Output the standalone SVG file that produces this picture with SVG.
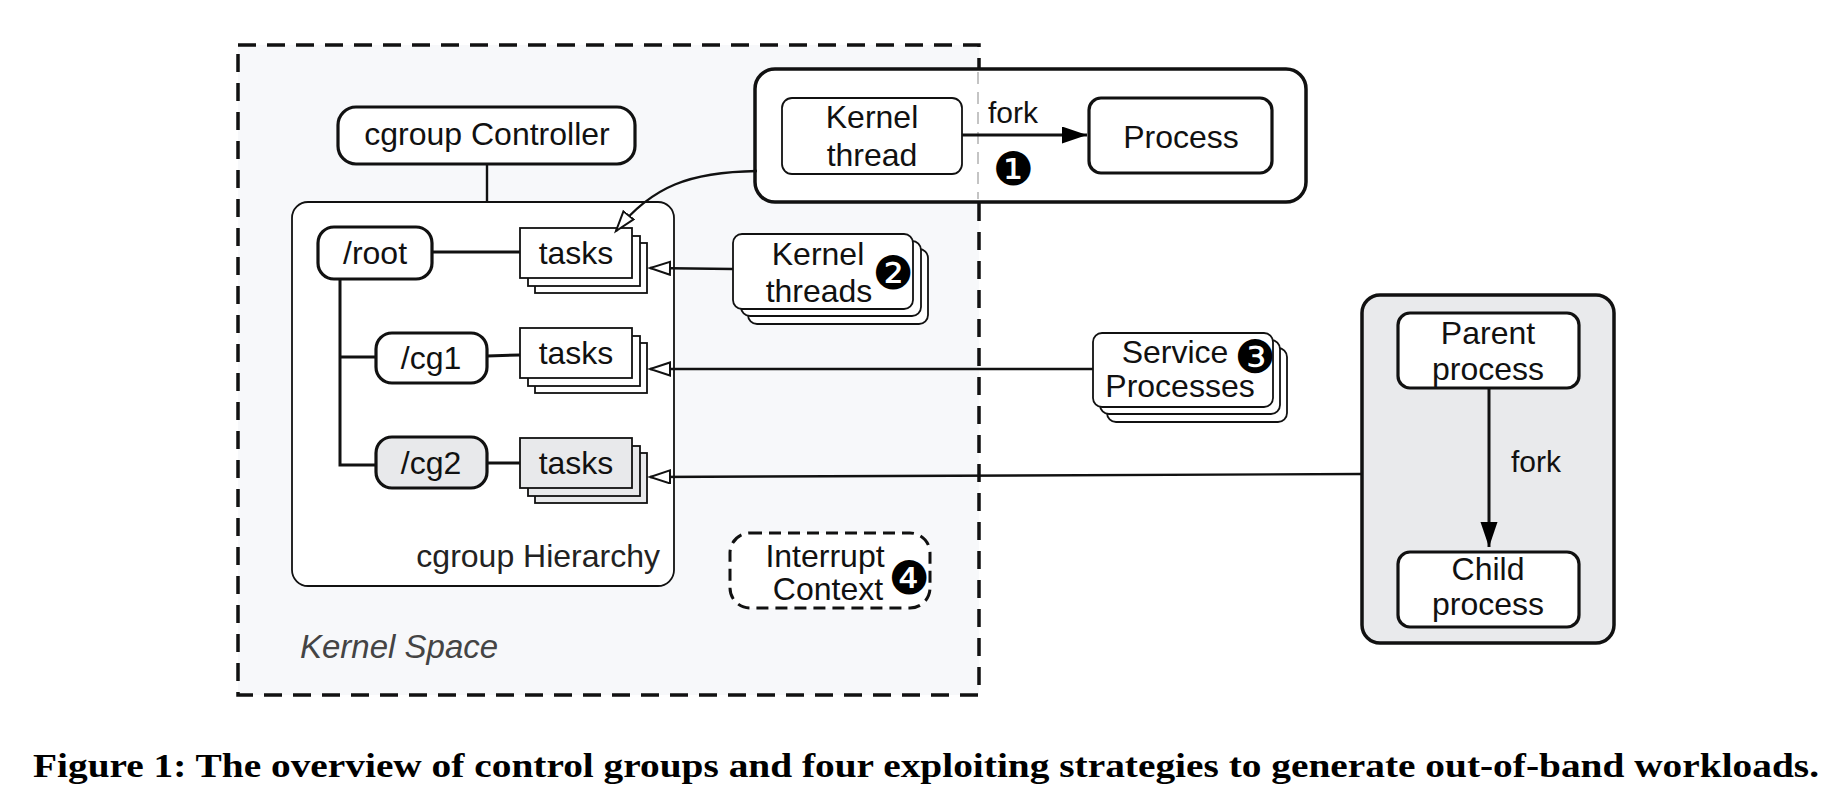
<svg xmlns="http://www.w3.org/2000/svg" width="1840" height="808" viewBox="0 0 1840 808">
<defs>
<style>
.t{font-family:"Liberation Sans",Arial,sans-serif;font-size:32px;fill:#111;text-anchor:middle}
.thick{fill:#fff;stroke:#111;stroke-width:3.2}
.thin{fill:#fff;stroke:#111;stroke-width:1.8}
.gray{fill:#e8e9eb}
.ln{fill:none;stroke:#111;stroke-width:3}
.lt{fill:none;stroke:#111;stroke-width:2.4}
.num{font-family:"DejaVu Sans",sans-serif;font-size:46px;fill:#000;text-anchor:middle}
</style>
<marker id="open" markerUnits="userSpaceOnUse" markerWidth="24" markerHeight="16" refX="21" refY="7.5" orient="auto">
<path d="M1,1 L21,7.5 L1,14 Z" fill="#fff" stroke="#111" stroke-width="2"/>
</marker>
<marker id="fill" markerUnits="userSpaceOnUse" markerWidth="26" markerHeight="18" refX="25" refY="8.5" orient="auto">
<path d="M0,0 L25,8.5 L0,17 Z" fill="#000"/>
</marker>
</defs>
<rect width="1840" height="808" fill="#fff"/>

<g id="kernel-space">
<rect x="238" y="45" width="741" height="650" fill="#f7f8fa" stroke="#111" stroke-width="3.5" stroke-dasharray="18 11"/>
<text x="300" y="658" style="font-family:'Liberation Sans',Arial,sans-serif;font-size:33px;font-style:italic;fill:#444">Kernel Space</text>
</g>

<g id="cgroup-controller">
<rect class="thick" x="338" y="107" width="297" height="57" rx="18"/>
<text class="t" x="487" y="145">cgroup Controller</text>
</g>

<g id="cgroup-hierarchy">
<rect class="thin" x="292" y="202" width="382" height="384" rx="16"/>
<text class="t" x="660" y="567" style="text-anchor:end;fill:#222">cgroup Hierarchy</text>
</g>

<g id="root">
<rect class="thick" x="318" y="227" width="114" height="52" rx="16"/>
<text class="t" x="375" y="264">/root</text>
</g>
<g id="cg1">
<rect class="thick" x="376" y="333" width="111" height="50" rx="16"/>
<text class="t" x="431" y="369">/cg1</text>
</g>
<g id="cg2">
<rect class="thick gray" x="376" y="437" width="111" height="51" rx="16"/>
<text class="t" x="431" y="474">/cg2</text>
</g>

<g id="tasks-root">
<rect class="thin" x="535" y="243" width="112" height="50"/>
<rect class="thin" x="528" y="236" width="112" height="50"/>
<rect class="thin" x="520" y="228" width="112" height="50"/>
<text class="t" x="576" y="264">tasks</text>
</g>
<g id="tasks-cg1">
<rect class="thin" x="535" y="343" width="112" height="50"/>
<rect class="thin" x="528" y="336" width="112" height="50"/>
<rect class="thin" x="520" y="328" width="112" height="50"/>
<text class="t" x="576" y="364">tasks</text>
</g>
<g id="tasks-cg2">
<rect class="thin gray" x="535" y="453" width="112" height="50"/>
<rect class="thin gray" x="528" y="446" width="112" height="50"/>
<rect class="thin gray" x="520" y="438" width="112" height="50"/>
<text class="t" x="576" y="474">tasks</text>
</g>

<g id="fork-group">
<rect x="755" y="69" width="551" height="133" rx="20" fill="#fff" stroke="#111" stroke-width="3.5"/>
<line x1="978" y1="72" x2="978" y2="199" stroke="#c4c4c4" stroke-width="2" stroke-dasharray="12 8"/>
</g>
<g id="kernel-thread">
<rect class="thin" x="782" y="98" width="180" height="76" rx="10"/>
<text class="t" x="872" y="128">Kernel</text>
<text class="t" x="872" y="166">thread</text>
</g>
<g id="process">
<rect class="thick" x="1089" y="98" width="183" height="75" rx="12"/>
<text class="t" x="1181" y="148">Process</text>
</g>

<g id="kernel-threads">
<rect class="thin" x="748" y="249" width="180" height="75" rx="9"/>
<rect class="thin" x="741" y="241" width="180" height="75" rx="9"/>
<rect class="thin" x="733" y="234" width="180" height="75" rx="9"/>
<text class="t" x="818" y="265">Kernel</text>
<text class="t" x="819" y="302">threads</text>
<text class="num" x="893" y="289">❷</text>
</g>

<g id="service-processes">
<rect class="thin" x="1107" y="348" width="180" height="74" rx="9"/>
<rect class="thin" x="1100" y="340" width="180" height="74" rx="9"/>
<rect class="thin" x="1093" y="333" width="180" height="74" rx="9"/>
<text class="t" x="1175" y="363">Service</text>
<text class="t" x="1180" y="397">Processes</text>
<text class="num" x="1255" y="373">❸</text>
</g>

<g id="interrupt-context">
<rect x="730" y="533" width="200" height="75" rx="20" fill="#fff" stroke="#111" stroke-width="3" stroke-dasharray="12 7"/>
<text class="t" x="825" y="567">Interrupt</text>
<text class="t" x="828" y="600">Context</text>
<text class="num" x="909" y="594">❹</text>
</g>

<g id="user-process-group">
<rect x="1362" y="295" width="252" height="348" rx="18" fill="#e9eaec" stroke="#111" stroke-width="3.5"/>
</g>
<g id="parent-process">
<rect class="thick" x="1398" y="313" width="181" height="75" rx="12"/>
<text class="t" x="1488" y="344">Parent</text>
<text class="t" x="1488" y="380">process</text>
</g>
<g id="child-process">
<rect class="thick" x="1398" y="552" width="181" height="75" rx="12"/>
<text class="t" x="1488" y="580">Child</text>
<text class="t" x="1488" y="615">process</text>
</g>

<g id="connectors">
<line class="lt" x1="487" y1="164" x2="487" y2="202"/>
<line class="ln" x1="432" y1="252" x2="520" y2="252"/>
<polyline class="ln" points="340,279 340,465 376,465"/>
<line class="ln" x1="340" y1="357" x2="376" y2="357"/>
<line class="ln" x1="487" y1="356" x2="520" y2="355"/>
<line class="ln" x1="487" y1="463" x2="520" y2="463"/>
<path class="lt" d="M757,171 C690,172 652,186 616,231" marker-end="url(#open)"/>
<line class="lt" x1="733" y1="269" x2="650" y2="268" marker-end="url(#open)"/>
<line class="lt" x1="1093" y1="369" x2="650" y2="369" marker-end="url(#open)"/>
<line class="lt" x1="1362" y1="474" x2="650" y2="477" marker-end="url(#open)"/>
<line class="ln" x1="962" y1="135" x2="1087" y2="135" marker-end="url(#fill)"/>
<line class="ln" x1="1489" y1="388" x2="1489" y2="547" marker-end="url(#fill)"/>
<text class="t" x="988" y="123" style="text-anchor:start;font-size:30px">fork</text>
<text class="num" x="1013" y="185">❶</text>
<text class="t" x="1511" y="472" style="text-anchor:start;font-size:30px">fork</text>
</g>

<text x="33" y="777" textLength="1786" lengthAdjust="spacingAndGlyphs" style="font-family:'Liberation Serif','Times New Roman',serif;font-size:33px;font-weight:bold;fill:#000">Figure 1: The overview of control groups and four exploiting strategies to generate out-of-band workloads.</text>
</svg>
